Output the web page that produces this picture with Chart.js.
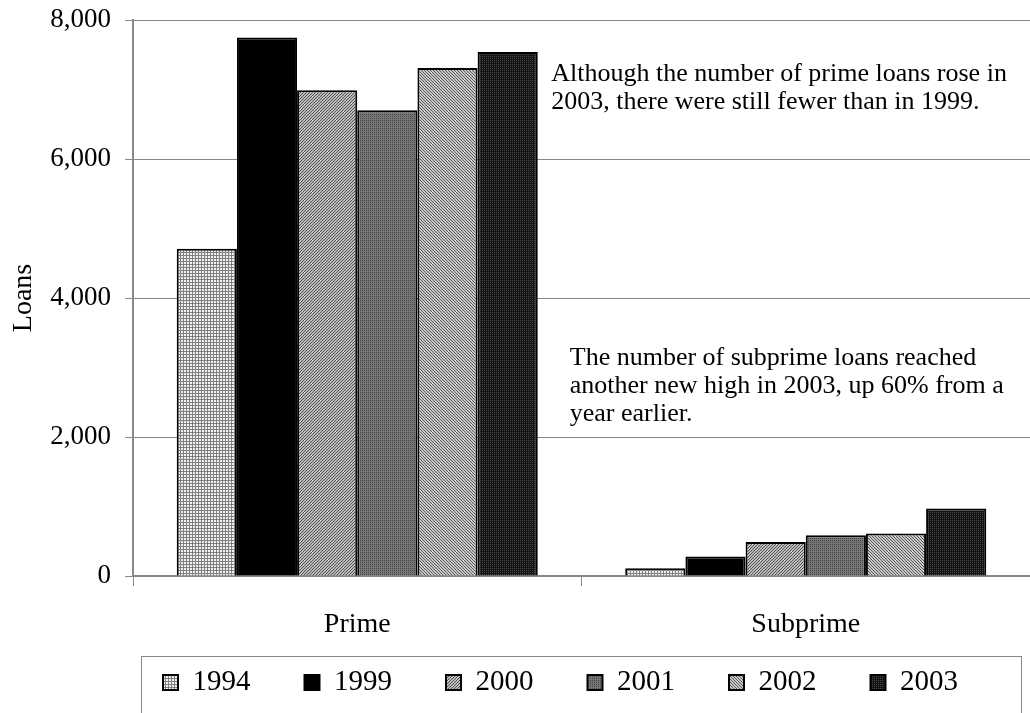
<!DOCTYPE html>
<html>
<head>
<meta charset="utf-8">
<script src="https://cdn.jsdelivr.net/npm/chart.js@4/dist/chart.umd.min.js"></script>
<style>
  html, body { margin: 0; padding: 0; background: #fff; }
  #wrap { width: 1030px; height: 713px; }
</style>
</head>
<body>
<div id="wrap"><canvas id="loansChart"></canvas></div>
<script>
    // data
    var categories = ['Prime', 'Subprime'];
    var years = ['1994', '1999', '2000', '2001', '2002', '2003'];
    var prime = [4710, 7750, 6990, 6700, 7310, 7540];
    var subprime = [110, 280, 490, 585, 610, 970];
    var yTicks = [0, 2000, 4000, 6000, 8000];
    var notePrime = ['Although the number of prime loans rose in', '2003, there were still fewer than in 1999.'];
    var noteSub = ['The number of subprime loans reached', 'another new high in 2003, up 60% from a', 'year earlier.'];

    var serif = "'Liberation Serif', 'Times New Roman', serif";

    // small tiles to mimic the grey-scale fill patterns
    function makePattern(size, bg, fg, cells) {
        var c = document.createElement('canvas');
        c.width = size; c.height = size;
        var g = c.getContext('2d');
        g.fillStyle = bg;
        g.fillRect(0, 0, size, size);
        g.fillStyle = fg;
        cells.forEach(function(p) { g.fillRect(p[0], p[1], 1, 1); });
        return g.createPattern(c, 'repeat');
    }

    var patterns = [
        makePattern(3, '#f0f0f0', '#808080', [[0,0],[1,0],[2,0],[0,1],[0,2]]),
        '#000',
        makePattern(3, '#bdbdbd', '#505050', [[2,0],[1,1],[0,2]]),
        makePattern(2, '#777', '#444', [[0,0]]),
        makePattern(3, '#c8c8c8', '#5a5a5a', [[0,0],[1,1],[2,2]]),
        makePattern(2, '#141414', '#474747', [[0,0]])
    ];

    var datasets = years.map(function(y, i) {
        return {
            label: y,
            data: [prime[i], subprime[i]],
            backgroundColor: patterns[i],
            borderColor: '#000',
            borderWidth: 2,
            borderSkipped: 'bottom',
            barPercentage: 1.0,
            categoryPercentage: 0.805
        };
    });

    var notes = {
        id: 'notes',
        afterLayout: function(chart) {
            // nudge the legend row to the right, as in the original
            var lg = chart.legend;
            lg.left += 109;
            lg.right += 109;
        },
        afterDatasetsDraw: function(chart) {
            var ctx = chart.ctx;
            var x = chart.scales.x;
            var y = chart.scales.y;
            ctx.save();
            ctx.fillStyle = '#000';
            ctx.font = '26px ' + serif;
            ctx.textBaseline = 'middle';
            ctx.textAlign = 'left';
            notePrime.forEach(function(t, i) {
                ctx.fillText(t, x.getPixelForValue(0) + 194, y.getPixelForValue(7225) + i * 28);
            });
            noteSub.forEach(function(t, i) {
                ctx.fillText(t, x.getPixelForValue(1) - 236, y.getPixelForValue(3140) + i * 28);
            });
            ctx.restore();
        },
        afterDraw: function(chart) {
            // frame round the legend
            var ctx = chart.ctx;
            ctx.save();
            ctx.strokeStyle = '#888';
            ctx.lineWidth = 1;
            ctx.strokeRect(141.5, 656.5, 880, 80);
            ctx.restore();
        }
    };

    document.addEventListener('DOMContentLoaded', function() {
        var ctx = document.getElementById('loansChart').getContext('2d');
        var loansChart = new Chart(ctx, {
            type: 'bar',
            data: {
                labels: categories,
                datasets: datasets
            },
            plugins: [notes],
            options: {
                responsive: true,
                maintainAspectRatio: false,
                animation: false,
                layout: {
                    padding: { top: 20, right: 0, bottom: 6, left: 0 }
                },
                scales: {
                    x: {
                        grid: {
                            display: true,
                            drawOnChartArea: false,
                            offset: true,
                            color: '#888',
                            tickLength: 10
                        },
                        border: { color: '#888', width: 2 },
                        ticks: {
                            color: '#000',
                            padding: 22,
                            font: { family: serif, size: 28 }
                        },
                        afterFit: function(scale) {
                            scale.height = 38;
                            // let the labels run below the squeezed axis box
                            scale._computeLabelArea = function() {};
                        }
                    },
                    y: {
                        min: 0,
                        max: 8000,
                        afterBuildTicks: function(scale) {
                            scale.ticks = yTicks.map(function(v) { return { value: v }; });
                        },
                        grid: {
                            color: '#888',
                            tickLength: 8
                        },
                        border: { color: '#888', width: 2 },
                        ticks: {
                            color: '#000',
                            padding: 14,
                            font: { family: serif, size: 27 },
                            callback: function(v) { return v.toLocaleString('en-US'); }
                        },
                        title: {
                            display: true,
                            text: 'Loans',
                            color: '#000',
                            padding: { top: 7, bottom: 0 },
                            font: { family: serif, size: 28 }
                        },
                        afterFit: function(scale) {
                            scale.width = 133;
                            scale.paddingTop = 0;
                            scale.paddingBottom = 0;
                        }
                    }
                },
                plugins: {
                    legend: {
                        display: true,
                        position: 'bottom',
                        align: 'start',
                        labels: {
                            color: '#000',
                            boxWidth: 15,
                            boxHeight: 15,
                            padding: 54,
                            font: { family: serif, size: 29 }
                        }
                    },
                    tooltip: { enabled: false }
                }
            }
        });
    });
</script>
</body>
</html>
